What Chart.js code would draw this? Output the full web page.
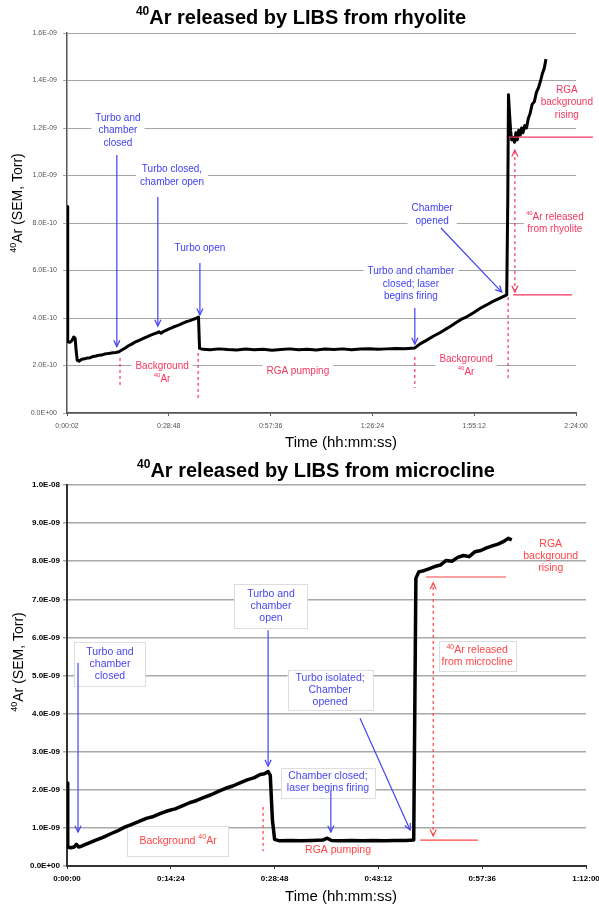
<!DOCTYPE html>
<html>
<head>
<meta charset="utf-8">
<script src="https://cdn.jsdelivr.net/npm/chart.js@4.4.1/dist/chart.umd.min.js"></script>
<style>
  html, body { margin: 0; padding: 0; background: #fff; }
  .wrap { position: relative; width: 599px; }
</style>
</head>
<body>
<div class="wrap" style="height:450px"><canvas id="rhyoChart"></canvas></div>
<div class="wrap" style="height:455px"><canvas id="microChart"></canvas></div>
<script>
// ===== DATA: rhyolite (time in minutes, 40Ar in Torr) =====
const rhyoMin = [
    0, 0.2, 0.8, 1.4, 1.9, 2.3, 2.6, 2.9, 3.4, 4.2, 5.0, 5.8, 6.6, 7.4, 8.2, 9.0, 9.8, 10.6, 11.4, 12.2,
    13.0, 13.8, 14.7, 15.6, 16.5, 17.4, 18.3, 19.2, 20.1, 21.0, 21.9, 22.8, 23.7, 24.6, 25.5, 26.0, 26.6,
    27.4, 28.3, 29.2, 30.1, 31.0, 31.9, 32.8, 33.7, 34.6, 35.5, 36.4, 37.2, 37.5, 38.5, 40.5, 43, 45.5,
    48, 50.5, 53, 55.5, 58, 60.5, 63, 65.5, 68, 70.5, 73, 75.5, 78, 80.5, 83, 85.5, 88, 90.5, 93, 95.5,
    98.4, 100, 101.8, 103.6, 105.5, 107, 108.3, 110, 111.6, 113.1, 115, 116.8, 118.7, 120.5, 122.5, 124.4,
    124.7, 124.9, 125.2, 125.5, 125.8, 126.2, 126.6, 127.0, 127.4, 127.8, 128.2, 128.6, 129.0, 129.5,
    130.0, 130.5, 131.0, 131.6, 132.2, 132.8, 133.4, 134.0, 134.5, 135.0, 135.5
];
const rhyoAr = [
    8.7e-10, 3.0e-10, 2.98e-10, 3.05e-10, 3.2e-10, 3.15e-10, 2.6e-10, 2.22e-10, 2.18e-10, 2.26e-10,
    2.28e-10, 2.32e-10, 2.33e-10, 2.38e-10, 2.4e-10, 2.43e-10, 2.44e-10, 2.48e-10, 2.5e-10, 2.52e-10,
    2.54e-10, 2.55e-10, 2.58e-10, 2.66e-10, 2.74e-10, 2.83e-10, 2.9e-10, 2.98e-10, 3.04e-10, 3.1e-10,
    3.16e-10, 3.22e-10, 3.28e-10, 3.33e-10, 3.38e-10, 3.42e-10, 3.36e-10, 3.44e-10, 3.5e-10, 3.56e-10,
    3.62e-10, 3.67e-10, 3.72e-10, 3.78e-10, 3.84e-10, 3.88e-10, 3.93e-10, 3.98e-10, 4.04e-10, 2.72e-10,
    2.68e-10, 2.66e-10, 2.7e-10, 2.67e-10, 2.65e-10, 2.69e-10, 2.66e-10, 2.68e-10, 2.64e-10, 2.67e-10,
    2.7e-10, 2.66e-10, 2.68e-10, 2.65e-10, 2.69e-10, 2.67e-10, 2.7e-10, 2.66e-10, 2.69e-10, 2.71e-10,
    2.68e-10, 2.7e-10, 2.72e-10, 2.71e-10, 2.74e-10, 2.92e-10, 3.07e-10, 3.23e-10, 3.38e-10, 3.52e-10,
    3.63e-10, 3.8e-10, 3.95e-10, 4.05e-10, 4.22e-10, 4.4e-10, 4.55e-10, 4.7e-10, 4.84e-10, 4.97e-10,
    9.0e-10, 1.34e-9, 1.26e-9, 1.19e-9, 1.15e-9, 1.16e-9, 1.14e-9, 1.18e-9, 1.15e-9, 1.19e-9,
    1.17e-9, 1.2e-9, 1.18e-9, 1.21e-9, 1.2e-9, 1.24e-9, 1.26e-9, 1.3e-9, 1.31e-9, 1.35e-9,
    1.37e-9, 1.4e-9, 1.43e-9, 1.45e-9, 1.49e-9
];
const rhyoXTicks = [0, 28.8, 57.6, 86.4, 115.2, 144];
const rhyoXLabels = ['0:00:02', '0:28:48', '0:57:36', '1:26:24', '1:55:12', '2:24:00'];
const rhyoYTicks = [0, 2e-10, 4e-10, 6e-10, 8e-10, 1e-9, 1.2e-9, 1.4e-9, 1.6e-9];
const rhyoYLabels = ['0.0E+00', '2.0E-10', '4.0E-10', '6.0E-10', '8.0E-10', '1.0E-09', '1.2E-09', '1.4E-09', '1.6E-09'];

// ===== DATA: microcline =====
const microMin = [
    0, 0.1, 0.5, 1.0, 1.3, 1.6, 2.0, 3.0, 4.0, 5.0, 6.0, 7.0, 8.0, 9.0, 10.0, 11.0, 12.0, 13.0, 14.0,
    15.0, 16.0, 17.0, 18.0, 19.0, 20.0, 21.0, 22.0, 23.0, 24.0, 25.0, 26.0, 26.8, 27.4, 27.9, 28.2,
    28.5, 28.8, 29.5, 31, 32.5, 34, 35.5, 36.1, 36.7, 38, 39.5, 41, 42.5, 44, 45.5, 47, 48.1, 48.4,
    48.8, 49.5, 50.2, 51.0, 51.8, 52.6, 53.4, 54.2, 55.0, 55.8, 56.6, 57.4, 58.2, 59.0, 59.8, 60.6,
    61.2, 61.7
];
const microAr = [
    2.18e-9, 0.5e-9, 0.48e-9, 0.5e-9, 0.57e-9, 0.5e-9, 0.52e-9, 0.6e-9, 0.68e-9, 0.75e-9, 0.84e-9,
    0.92e-9, 1.02e-9, 1.09e-9, 1.17e-9, 1.25e-9, 1.3e-9, 1.38e-9, 1.45e-9, 1.5e-9, 1.58e-9, 1.66e-9,
    1.72e-9, 1.8e-9, 1.87e-9, 1.96e-9, 2.04e-9, 2.1e-9, 2.18e-9, 2.26e-9, 2.32e-9, 2.4e-9, 2.42e-9,
    2.48e-9, 2.38e-9, 1.2e-9, 0.7e-9, 0.66e-9, 0.67e-9, 0.66e-9, 0.67e-9, 0.68e-9, 0.73e-9, 0.67e-9,
    0.66e-9, 0.67e-9, 0.66e-9, 0.67e-9, 0.66e-9, 0.67e-9, 0.67e-9, 0.68e-9, 7.55e-9, 7.72e-9,
    7.75e-9, 7.8e-9, 7.86e-9, 7.9e-9, 8.02e-9, 8.0e-9, 8.1e-9, 8.15e-9, 8.12e-9, 8.25e-9, 8.28e-9,
    8.35e-9, 8.4e-9, 8.45e-9, 8.52e-9, 8.6e-9, 8.56e-9
];
const microXTicks = [0, 14.4, 28.8, 43.2, 57.6, 72];
const microXLabels = ['0:00:00', '0:14:24', '0:28:48', '0:43:12', '0:57:36', '1:12:00'];
const microYTicks = [0, 1e-9, 2e-9, 3e-9, 4e-9, 5e-9, 6e-9, 7e-9, 8e-9, 9e-9, 1e-8];
const microYLabels = ['0.0E+00', '1.0E-09', '2.0E-09', '3.0E-09', '4.0E-09', '5.0E-09', '6.0E-09', '7.0E-09', '8.0E-09', '9.0E-09', '1.0E-08'];

const FONT = '"Liberation Sans", Arial, sans-serif';

// text with {40} style superscripts
function richWidth(ctx, str, size, weight) {
    let w = 0;
    str.split(/\{(\d+)\}/).forEach((p, i) => {
        ctx.font = `${weight} ${i % 2 ? Math.round(size * 0.62) : size}px ${FONT}`;
        w += ctx.measureText(p).width;
    });
    return w;
}

function richText(ctx, str, x, y, size, weight) {
    let cx = x - richWidth(ctx, str, size, weight) / 2;
    ctx.textAlign = 'left';
    ctx.textBaseline = 'middle';
    str.split(/\{(\d+)\}/).forEach((p, i) => {
        const sup = i % 2 === 1;
        ctx.font = `${weight} ${sup ? Math.round(size * 0.62) : size}px ${FONT}`;
        ctx.fillText(p, cx, sup ? y - size * 0.33 : y);
        cx += ctx.measureText(p).width;
    });
}

function arrowHead(ctx, x1, y1, x2, y2, len) {
    const a = Math.atan2(y2 - y1, x2 - x1);
    ctx.beginPath();
    ctx.moveTo(x2 - len * Math.cos(a - 0.45), y2 - len * Math.sin(a - 0.45));
    ctx.lineTo(x2, y2);
    ctx.lineTo(x2 - len * Math.cos(a + 0.45), y2 - len * Math.sin(a + 0.45));
    ctx.stroke();
}

// annotations, title and axis titles
const notesPlugin = {
    id: 'notes',
    // white boxes go over the grid but under the trace
    beforeDatasetsDraw(chart, args, opts) {
        const { ctx, scales: { x, y } } = chart;
        ctx.save();
        opts.texts.forEach(t => {
            if (!t.box) return;
            const cx = x.getPixelForValue(t.at[0]);
            const cy = y.getPixelForValue(t.at[1]);
            const w = Math.max(...t.lines.map(l => richWidth(ctx, l, opts.size, 'normal')));
            const h = t.lines.length * opts.lineHeight;
            const bx = cx - w / 2 - t.box[0], by = cy - h / 2 - t.box[1];
            const bw = w + 2 * t.box[0], bh = h + 2 * t.box[1];
            ctx.fillStyle = '#ffffff';
            ctx.fillRect(bx, by, bw, bh);
            if (opts.boxBorder) {
                ctx.strokeStyle = opts.boxBorder;
                ctx.lineWidth = 1;
                ctx.strokeRect(Math.round(bx) + 0.5, Math.round(by) + 0.5, Math.round(bw), Math.round(bh));
            }
        });
        ctx.restore();
    },
    afterDraw(chart, args, opts) {
        const { ctx, scales: { x, y } } = chart;
        ctx.save();

        // lines and arrows
        opts.lines.forEach(l => {
            const x1 = x.getPixelForValue(l.from[0]), y1 = y.getPixelForValue(l.from[1]);
            const x2 = x.getPixelForValue(l.to[0]), y2 = y.getPixelForValue(l.to[1]);
            ctx.strokeStyle = l.color;
            ctx.lineWidth = l.width || 1.2;
            ctx.setLineDash(l.dash ? [3, 3] : []);
            ctx.beginPath();
            ctx.moveTo(x1, y1);
            ctx.lineTo(x2, y2);
            ctx.stroke();
            ctx.setLineDash([]);
            if (l.head === 'end' || l.head === 'both') arrowHead(ctx, x1, y1, x2, y2, 7);
            if (l.head === 'both') arrowHead(ctx, x2, y2, x1, y1, 7);
        });

        // note texts
        opts.texts.forEach(t => {
            const cx = x.getPixelForValue(t.at[0]);
            const cy = y.getPixelForValue(t.at[1]);
            const top = cy - (t.lines.length - 1) * opts.lineHeight / 2;
            ctx.fillStyle = t.color;
            t.lines.forEach((line, i) => richText(ctx, line, cx, top + i * opts.lineHeight, opts.size, 'normal'));
        });

        // chart title and axis titles
        ctx.fillStyle = '#000';
        richText(ctx, opts.title, opts.titleAt[0], opts.titleAt[1], 20, 'bold');
        richText(ctx, 'Time (hh:mm:ss)', opts.xTitleAt[0], opts.xTitleAt[1], 15, 'normal');
        ctx.translate(opts.yTitleAt[0], opts.yTitleAt[1]);
        ctx.rotate(-Math.PI / 2);
        richText(ctx, '{40}Ar (SEM, Torr)', 0, 0, 14, 'normal');
        ctx.restore();
    }
};

function buildChart(id, cfg) {
    new Chart(document.getElementById(id), {
        type: 'line',
        data: {
            datasets: [{
                data: cfg.minutes.map((m, i) => ({ x: m, y: cfg.values[i] })),
                borderColor: '#000',
                borderWidth: cfg.lineWidth,
                pointRadius: 0,
                tension: 0,
                borderJoinStyle: 'round'
            }]
        },
        options: {
            responsive: true,
            maintainAspectRatio: false,
            animation: false,
            events: [],
            layout: { padding: { top: cfg.top, right: cfg.right, bottom: 0, left: 0 } },
            scales: {
                x: {
                    type: 'linear',
                    min: cfg.xTicks[0],
                    max: cfg.xTicks[cfg.xTicks.length - 1],
                    afterBuildTicks: s => { s.ticks = cfg.xTicks.map(v => ({ value: v })); },
                    afterFit: s => { s.height = cfg.xHeight; s.paddingLeft = 0; s.paddingRight = 0; },
                    ticks: {
                        autoSkip: false,
                        maxRotation: 0,
                        padding: cfg.xPad,
                        color: cfg.tickColor,
                        font: { family: FONT, size: cfg.tickSize, weight: cfg.tickWeight },
                        callback: (v, i) => cfg.xLabels[i]
                    },
                    grid: { drawOnChartArea: false, tickLength: 3, color: cfg.axisColor },
                    border: { color: cfg.axisColor, width: cfg.axisWidth }
                },
                y: {
                    min: cfg.yTicks[0],
                    max: cfg.yTicks[cfg.yTicks.length - 1],
                    afterBuildTicks: s => { s.ticks = cfg.yTicks.map(v => ({ value: v })); },
                    afterFit: s => { s.width = 67; s.paddingTop = 0; s.paddingBottom = 0; },
                    ticks: {
                        padding: cfg.yPad,
                        color: cfg.tickColor,
                        font: { family: FONT, size: cfg.tickSize, weight: cfg.tickWeight },
                        callback: (v, i) => cfg.yLabels[i]
                    },
                    grid: { color: cfg.gridColor, lineWidth: cfg.gridWidth, tickLength: 4 },
                    border: { color: cfg.axisColor, width: cfg.axisWidth }
                }
            },
            plugins: {
                legend: { display: false },
                tooltip: { enabled: false },
                notes: cfg.notes
            }
        },
        plugins: [notesPlugin]
    });
}

// ===== CHART RHYOLITE =====
const BLUE1 = '#4040f2', RED1 = '#f5365f';
buildChart('rhyoChart', {
    minutes: rhyoMin, values: rhyoAr, lineWidth: 3,
    xTicks: rhyoXTicks, xLabels: rhyoXLabels, yTicks: rhyoYTicks, yLabels: rhyoYLabels,
    top: 33, right: 23, xHeight: 37, xPad: 6, yPad: 6,
    tickColor: '#555', tickSize: 7, tickWeight: 'normal',
    axisColor: '#555', axisWidth: 1.5, gridColor: '#a6a6a6', gridWidth: 1,
    notes: {
        size: 10, lineHeight: 12.5, boxBorder: null,
        title: '{40}Ar released by LIBS from rhyolite', titleAt: [301, 18.5],
        xTitleAt: [341, 443], yTitleAt: [18, 203],
        texts: [
            { at: [14.4, 1.19e-9], lines: ['Turbo and', 'chamber', 'closed'], color: BLUE1, box: [4, 1] },
            { at: [29.7, 1.0e-9], lines: ['Turbo closed,', 'chamber open'], color: BLUE1, box: [4, 1] },
            { at: [37.6, 6.95e-10], lines: ['Turbo open'], color: BLUE1, box: [4, 1] },
            { at: [97.3, 5.43e-10], lines: ['Turbo and chamber', 'closed; laser', 'begins firing'], color: BLUE1, box: [4, 1] },
            { at: [103.3, 8.34e-10], lines: ['Chamber', 'opened'], color: BLUE1, box: [4, 1] },
            { at: [26.9, 1.7e-10], lines: ['Background', '{40}Ar'], color: RED1, box: [4, 1] },
            { at: [65.3, 1.77e-10], lines: ['RGA pumping'], color: RED1, box: [4, 1] },
            { at: [112.9, 2.0e-10], lines: ['Background', '{40}Ar'], color: RED1, box: [4, 1] },
            { at: [138.0, 8.0e-10], lines: ['{40}Ar released', 'from rhyolite'], color: RED1, box: [2, 1] },
            { at: [141.4, 1.307e-9], lines: ['RGA', 'background', 'rising'], color: RED1, box: [2, 1] }
        ],
        lines: [
            { from: [14.1, 1.086e-9], to: [14.1, 2.8e-10], color: BLUE1, head: 'end' },
            { from: [25.7, 9.09e-10], to: [25.7, 3.66e-10], color: BLUE1, head: 'end' },
            { from: [37.6, 6.32e-10], to: [37.6, 4.13e-10], color: BLUE1, head: 'end' },
            { from: [98.4, 4.42e-10], to: [98.4, 2.9e-10], color: BLUE1, head: 'end' },
            { from: [105.8, 7.79e-10], to: [123.0, 5.09e-10], color: BLUE1, head: 'end' },
            { from: [15.0, 2.32e-10], to: [15.0, 1.18e-10], color: RED1, dash: true },
            { from: [37.1, 2.53e-10], to: [37.1, 0.63e-10], color: RED1, dash: true },
            { from: [98.4, 2.36e-10], to: [98.4, 1.05e-10], color: RED1, dash: true },
            { from: [124.8, 4.88e-10], to: [124.8, 1.39e-10], color: RED1, dash: true },
            { from: [126.7, 5.09e-10], to: [126.7, 1.107e-9], color: RED1, dash: true, head: 'both' },
            { from: [125.0, 1.162e-9], to: [148.8, 1.162e-9], color: RED1 },
            { from: [126.2, 4.97e-10], to: [142.9, 4.97e-10], color: RED1 }
        ]
    }
});

// ===== CHART MICROCLINE =====
const BLUE2 = '#4646ee', RED2 = '#ff4444';
buildChart('microChart', {
    minutes: microMin, values: microAr, lineWidth: 3.5,
    xTicks: microXTicks, xLabels: microXLabels, yTicks: microYTicks, yLabels: microYLabels,
    top: 35, right: 13, xHeight: 39, xPad: 5, yPad: 3,
    tickColor: '#000', tickSize: 8, tickWeight: 'bold',
    axisColor: '#333', axisWidth: 2, gridColor: '#a8a8a8', gridWidth: 1.5,
    notes: {
        size: 10.5, lineHeight: 12, boxBorder: '#dddddd',
        title: '{40}Ar released by LIBS from microcline', titleAt: [316, 21.5],
        xTitleAt: [341, 447], yTitleAt: [19.5, 212],
        texts: [
            { at: [5.96, 5.30e-9], lines: ['Turbo and', 'chamber', 'closed'], color: BLUE2, box: [12, 4] },
            { at: [28.3, 6.82e-9], lines: ['Turbo and', 'chamber', 'open'], color: BLUE2, box: [13, 4] },
            { at: [36.5, 4.62e-9], lines: ['Turbo isolated;', 'Chamber', 'opened'], color: BLUE2, box: [8, 2] },
            { at: [36.2, 2.19e-9], lines: ['Chamber closed;', 'laser begins firing'], color: BLUE2, box: [6, 3] },
            { at: [15.4, 0.66e-9], lines: ['Background {40}Ar'], color: RED2, box: [12, 9] },
            { at: [37.6, 0.42e-9], lines: ['RGA pumping'], color: RED2, box: null },
            { at: [56.9, 5.51e-9], lines: ['{40}Ar released', 'from microcline'], color: RED2, box: [3, 3] },
            { at: [67.1, 8.14e-9], lines: ['RGA', 'background', 'rising'], color: RED2, box: null }
        ],
        lines: [
            { from: [1.53, 5.33e-9], to: [1.53, 0.89e-9], color: BLUE2, head: 'end' },
            { from: [27.9, 6.19e-9], to: [27.9, 2.62e-9], color: BLUE2, head: 'end' },
            { from: [40.65, 3.88e-9], to: [47.6, 0.945e-9], color: BLUE2, head: 'end' },
            { from: [36.6, 1.99e-9], to: [36.6, 0.89e-9], color: BLUE2, head: 'end' },
            { from: [27.2, 1.55e-9], to: [27.2, 0.39e-9], color: RED2, dash: true },
            { from: [50.8, 0.79e-9], to: [50.8, 7.43e-9], color: RED2, dash: true, head: 'both' },
            { from: [49.8, 7.585e-9], to: [60.9, 7.585e-9], color: RED2 },
            { from: [49.0, 0.68e-9], to: [57.0, 0.68e-9], color: RED2 }
        ]
    }
});
</script>
</body>
</html>
